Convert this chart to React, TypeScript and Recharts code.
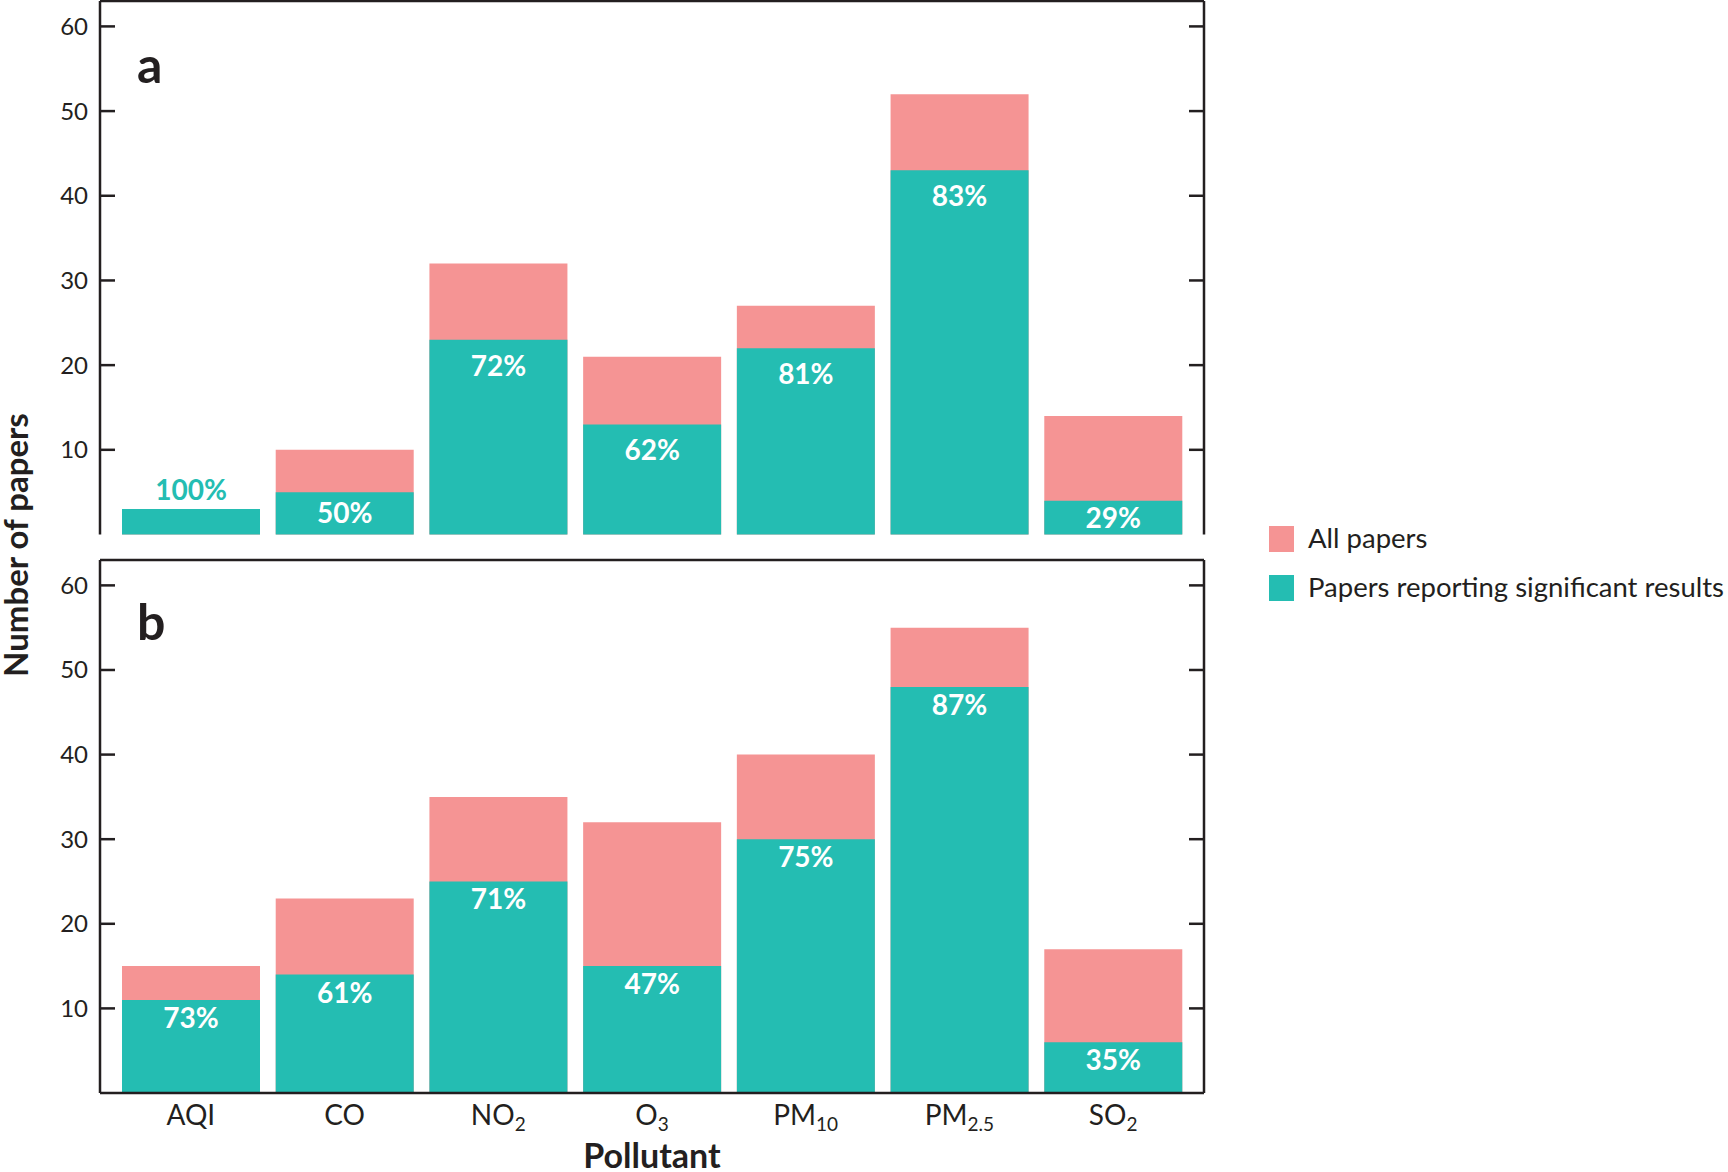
import { Bar, BarChart, LabelList, XAxis, YAxis } from "recharts";

const categories = ["AQI", "CO", "NO2", "O3", "PM10", "PM2.5", "SO2"];
const tickMain = ["AQI", "CO", "NO", "O", "PM", "PM", "SO"];
const tickSub = ["", "", "2", "3", "10", "2.5", "2"];
const yTicks = [10, 20, 30, 40, 50, 60];

// panel a
const allPapersA = [3, 10, 32, 21, 27, 52, 14];
const significantA = [3, 5, 23, 13, 22, 43, 4];
const percentA = ["100%", "50%", "72%", "62%", "81%", "83%", "29%"];

// panel b
const allPapersB = [15, 23, 35, 32, 40, 55, 17];
const significantB = [11, 14, 25, 15, 30, 48, 6];
const percentB = ["73%", "61%", "71%", "47%", "75%", "87%", "35%"];

const PINK = "#f59494";
const TEAL = "#24bdb2";
const INK = "#231f20";
const FONT = "Lato, 'Open Sans', sans-serif";

const buildRows = (all: number[], sig: number[], pct: string[]) =>
  categories.map((name, i) => ({ name, all: all[i], sig: sig[i], pct: pct[i] }));

function LeftTick(props: any) {
  const { x, y, payload } = props;
  return (
    <g>
      <line x1={x} x2={x + 15} y1={y} y2={y} stroke={INK} strokeWidth={2.5} />
      <text x={x - 12} y={y + 8.5} textAnchor="end" fontFamily={FONT} fontSize={24} fill={INK}>
        {payload.value}
      </text>
    </g>
  );
}

function RightTick(props: any) {
  const { x, y } = props;
  return <line x1={x - 15} x2={x} y1={y} y2={y} stroke={INK} strokeWidth={2.5} />;
}

function BottomTick(props: any) {
  const { x, y, payload } = props;
  const i = categories.indexOf(payload.value);
  return (
    <text x={x} y={y + 32} textAnchor="middle" fontFamily={FONT} fontSize={28} fill={INK}>
      {tickMain[i]}
      {tickSub[i] ? (
        <tspan dy={6} fontSize={19}>
          {tickSub[i]}
        </tspan>
      ) : null}
    </text>
  );
}

const makeLabel = (offset: number) => (props: any) => {
  const vb = props.viewBox && props.viewBox.width != null ? props.viewBox : props;
  const { x, y, width, height } = vb;
  const h = Math.abs(height);
  const cx = x + width / 2;
  if (h < 30) {
    return (
      <text x={cx} y={y - 9} textAnchor="middle" fontFamily={FONT} fontWeight={700} fontSize={28} fill={TEAL}>
        {props.value}
      </text>
    );
  }
  const cy = y + Math.min(offset, h / 2);
  return (
    <text x={cx} y={cy + 10} textAnchor="middle" fontFamily={FONT} fontWeight={700} fontSize={28} fill="#fff">
      {props.value}
    </text>
  );
};

function Panel(props: {
  rows: any[];
  height: number;
  margin: { top: number; right: number; bottom: number; left: number };
  xHeight: number;
  showX: boolean;
  labelOffset: number;
}) {
  const { rows, height, margin, xHeight, showX, labelOffset } = props;
  const axisLine = { stroke: INK, strokeWidth: 2.5 };
  return (
    <BarChart width={1230} height={height} data={rows} margin={margin} barSize={138} barGap={-138}>
      <XAxis
        dataKey="name"
        height={xHeight}
        padding={{ left: 14, right: 14 }}
        axisLine={axisLine}
        tickLine={false}
        tickSize={0}
        tickMargin={0}
        interval={0}
        tick={showX ? <BottomTick /> : false}
      />
      <XAxis
        xAxisId="top"
        dataKey="name"
        orientation="top"
        height={1}
        axisLine={axisLine}
        tickLine={false}
        tick={false}
      />
      <YAxis
        width={60}
        domain={[0, 63]}
        ticks={yTicks}
        axisLine={axisLine}
        tickLine={false}
        tickSize={0}
        tickMargin={0}
        tick={<LeftTick />}
      />
      <YAxis
        yAxisId="right"
        orientation="right"
        width={1}
        type="number"
        domain={[0, 63]}
        allowDataOverflow
        ticks={yTicks}
        interval={0}
        axisLine={axisLine}
        tickLine={false}
        tickSize={0}
        tickMargin={0}
        tick={<RightTick />}
      />
      <Bar dataKey="all" fill={PINK} isAnimationActive={false} />
      <Bar dataKey="sig" fill={TEAL} isAnimationActive={false}>
        <LabelList dataKey="pct" content={makeLabel(labelOffset)} />
      </Bar>
    </BarChart>
  );
}

export default function App() {
  return (
    <div style={{ position: "absolute", left: 0, top: 0, width: 1728, height: 1172, background: "#fff" }}>
      <div style={{ position: "absolute", left: 0, top: 0 }}>
        <Panel
          rows={buildRows(allPapersA, significantA, percentA)}
          height={545}
          margin={{ top: 0, right: 25, bottom: 10.5, left: 40 }}
          xHeight={0}
          showX={false}
          labelOffset={26}
        />
      </div>
      <div style={{ position: "absolute", left: 0, top: 540 }}>
        <Panel
          rows={buildRows(allPapersB, significantB, percentB)}
          height={600}
          margin={{ top: 19, right: 25, bottom: 0, left: 40 }}
          xHeight={47}
          showX={true}
          labelOffset={18}
        />
      </div>
      <svg
        width={1728}
        height={1172}
        style={{ position: "absolute", left: 0, top: 0, pointerEvents: "none" }}
      >
        <text x={137} y={83} fontFamily={FONT} fontWeight={700} fontSize={50} fill={INK}>
          a
        </text>
        <text x={137} y={640} fontFamily={FONT} fontWeight={700} fontSize={50} fill={INK}>
          b
        </text>
        <text
          x={28}
          y={545}
          transform="rotate(-90 28 545)"
          textAnchor="middle"
          fontFamily={FONT}
          fontWeight={700}
          fontSize={33}
          fill={INK}
        >
          Number of papers
        </text>
        <text x={652} y={1168} textAnchor="middle" fontFamily={FONT} fontWeight={700} fontSize={34} fill={INK}>
          Pollutant
        </text>
        <rect x={1269} y={526} width={25} height={26} fill={PINK} />
        <text x={1308} y={548} fontFamily={FONT} fontSize={27.5} fill={INK}>
          All papers
        </text>
        <rect x={1269} y={575} width={25} height={26} fill={TEAL} />
        <text x={1308} y={597} fontFamily={FONT} fontSize={27.5} fill={INK}>
          Papers reporting significant results
        </text>
      </svg>
    </div>
  );
}
